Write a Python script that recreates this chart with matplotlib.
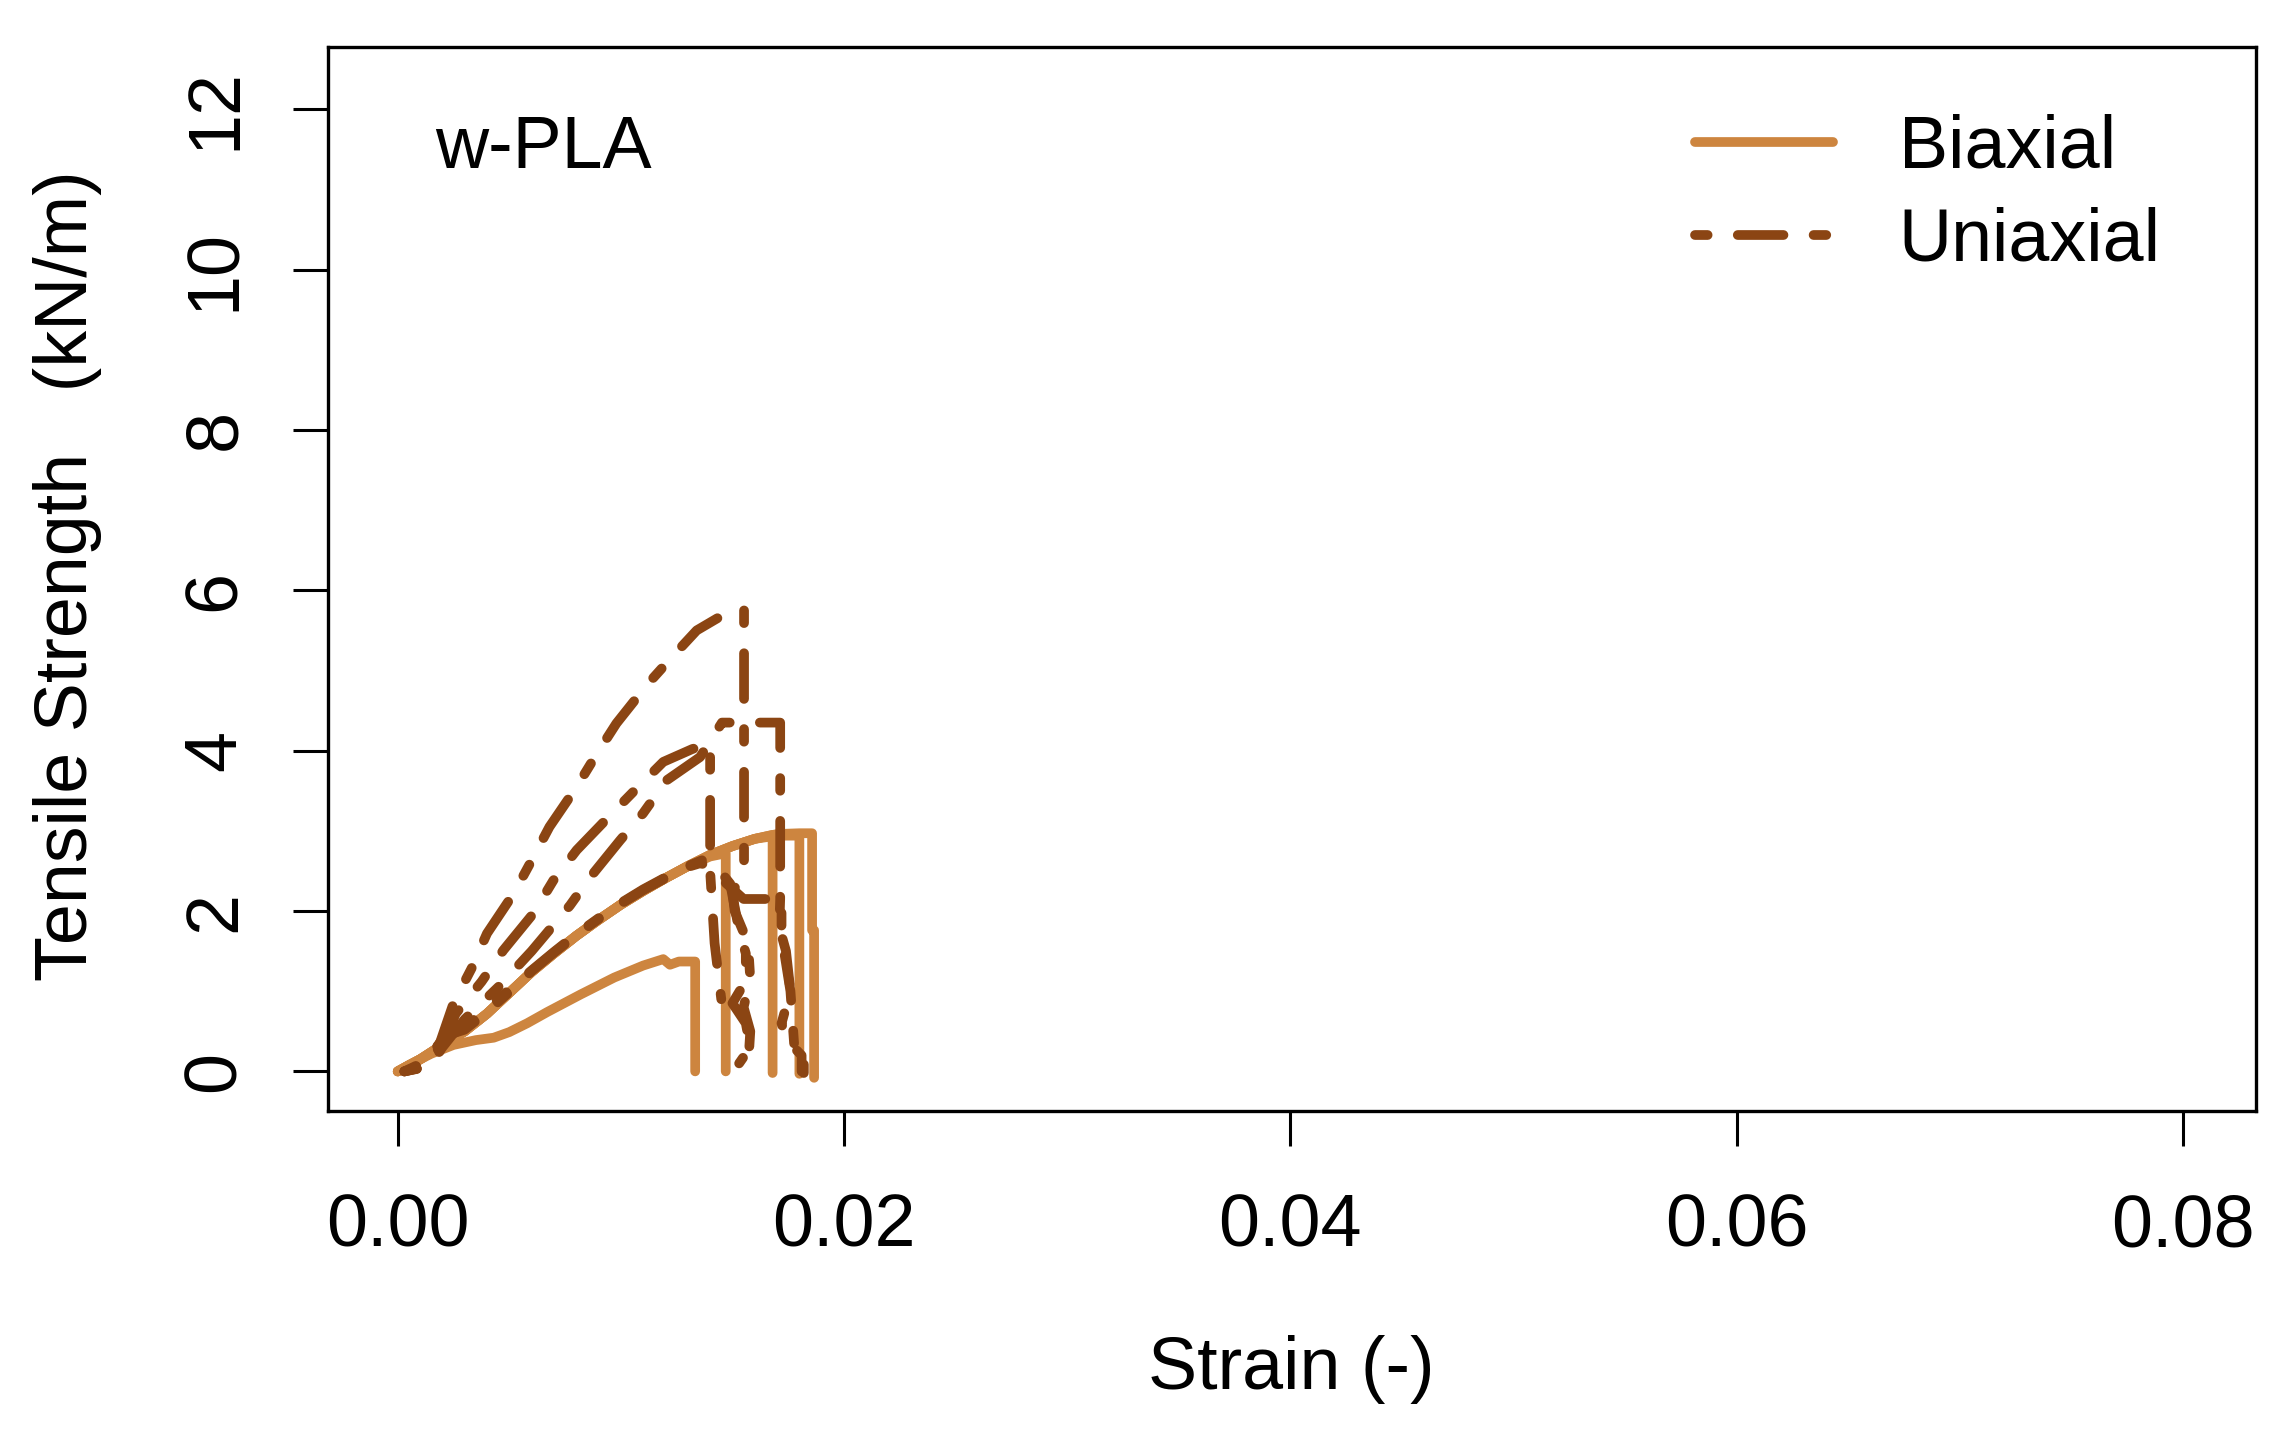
import matplotlib
matplotlib.use("Agg")
import matplotlib.pyplot as plt
from matplotlib.lines import Line2D

plt.rcParams['font.family'] = ['Liberation Sans', 'DejaVu Sans']

# ---------------- data ----------------
# Biaxial curves (strain, tensile strength kN/m)
b1_x = [0.0, 0.0005, 0.0015, 0.0025, 0.0035, 0.0043, 0.0050, 0.0058, 0.0067, 0.0082, 0.0097,
        0.0110, 0.0119, 0.0122, 0.0126, 0.01333, 0.01333]
b1_y = [0.0, 0.08, 0.22, 0.33, 0.39, 0.42, 0.49, 0.60, 0.74, 0.96, 1.17,
        1.32, 1.40, 1.33, 1.37, 1.37, 0.0]

b2_x = [0.0, 0.001, 0.002, 0.003, 0.004, 0.005, 0.006, 0.007, 0.008, 0.009, 0.010,
        0.011, 0.012, 0.013, 0.014, 0.0147, 0.0147]
b2_y = [0.0, 0.15, 0.33, 0.50, 0.72, 0.98, 1.24, 1.47, 1.69, 1.89, 2.08,
        2.25, 2.41, 2.56, 2.68, 2.72, 0.0]

b3_x = [0.0, 0.001, 0.002, 0.003, 0.004, 0.005, 0.006, 0.007, 0.008, 0.009, 0.010,
        0.011, 0.012, 0.013, 0.014, 0.015, 0.016, 0.0168, 0.0168]
b3_y = [0.0, 0.15, 0.33, 0.50, 0.72, 0.98, 1.24, 1.47, 1.69, 1.89, 2.08,
        2.25, 2.41, 2.56, 2.70, 2.81, 2.90, 2.95, -0.02]

b4_x = [0.0, 0.001, 0.002, 0.003, 0.004, 0.005, 0.006, 0.007, 0.008, 0.009, 0.010,
        0.011, 0.012, 0.013, 0.014, 0.015, 0.016, 0.017, 0.0180, 0.0180]
b4_y = [0.0, 0.15, 0.33, 0.50, 0.72, 0.98, 1.24, 1.47, 1.69, 1.89, 2.08,
        2.25, 2.41, 2.56, 2.70, 2.81, 2.90, 2.94, 2.94, -0.03]

b5_x = [0.0, 0.001, 0.002, 0.003, 0.004, 0.005, 0.006, 0.007, 0.008, 0.009, 0.010,
        0.011, 0.012, 0.013, 0.014, 0.015, 0.016, 0.017, 0.018, 0.01857, 0.01857,
        0.01866, 0.01866]
b5_y = [0.0, 0.15, 0.33, 0.50, 0.72, 0.98, 1.24, 1.47, 1.69, 1.89, 2.08,
        2.25, 2.41, 2.56, 2.70, 2.81, 2.90, 2.96, 2.97, 2.97, 1.76,
        1.76, -0.08]

# Uniaxial curves
u1_x = [0.0003, 0.0012, 0.0017, 0.0025, 0.0033, 0.0040, 0.0052, 0.0060, 0.0068, 0.0080,
        0.0089, 0.0098, 0.0112, 0.0123, 0.0134, 0.0145, 0.01545, 0.01552, 0.01552,
        0.0150, 0.0151, 0.0157, 0.0158, 0.0155, 0.0158, 0.0157]
u1_y = [0.0, 0.06, 0.20, 0.85, 1.28, 1.72, 2.22, 2.63, 3.05, 3.54,
        3.95, 4.34, 4.83, 5.17, 5.50, 5.68, 5.77, 5.77, 2.45,
        2.25, 2.00, 1.60, 1.15, 0.80, 0.50, 0.05]

u2_x = [0.0003, 0.0013, 0.0018, 0.0026, 0.00376, 0.00473, 0.00608, 0.00697, 0.00802,
        0.00951, 0.01071, 0.0119, 0.0132, 0.01392, 0.01400, 0.01400, 0.0142, 0.0145]
u2_y = [0.0, 0.06, 0.20, 0.72, 1.12, 1.51, 1.97, 2.38, 2.76,
        3.19, 3.53, 3.86, 4.02, 4.08, 4.08, 2.50, 1.60, 0.90]

u3_x = [0.0003, 0.0014, 0.0020, 0.0030, 0.0045, 0.0060, 0.00772, 0.00862, 0.00996,
        0.01100, 0.01205, 0.01355, 0.01453, 0.01714, 0.01714, 0.0171, 0.0174,
        0.0176, 0.0172, 0.0174, 0.0181, 0.0181]
u3_y = [0.0, 0.06, 0.30, 0.65, 1.05, 1.50, 2.07, 2.42, 2.88,
        3.22, 3.63, 3.92, 4.35, 4.35, 2.15, 1.80, 1.50,
        1.00, 0.60, 0.40, 0.20, 0.0]

u4_x = [0.0003, 0.0012, 0.0020, 0.0030, 0.0040, 0.0050, 0.0060, 0.0070, 0.0080, 0.0090,
        0.0100, 0.0110, 0.0120, 0.0130, 0.0137, 0.0143, 0.0149, 0.0153, 0.0156,
        0.0156, 0.0150, 0.0156, 0.0158, 0.0153]
u4_y = [0.0, 0.10, 0.40, 0.55, 0.78, 1.02, 1.26, 1.49, 1.71, 1.91,
        2.10, 2.27, 2.42, 2.56, 2.64, 2.55, 2.34, 1.76, 1.47,
        1.13, 0.85, 0.60, 0.30, 0.10]

u5_x = [0.0003, 0.0012, 0.0022, 0.0030, 0.0040, 0.0050, 0.0060, 0.0070, 0.0080, 0.0090,
        0.0100, 0.0110, 0.0120, 0.0130, 0.0136, 0.0145, 0.0155, 0.0172, 0.0172,
        0.0176, 0.0178, 0.0182, 0.0182]
u5_y = [0.0, 0.12, 0.45, 0.52, 0.74, 0.99, 1.25, 1.48, 1.70, 1.90,
        2.09, 2.26, 2.41, 2.55, 2.60, 2.40, 2.15, 2.15, 1.70,
        1.00, 0.20, 0.20, -0.02]

biaxial = [(b1_x, b1_y), (b2_x, b2_y), (b3_x, b3_y), (b4_x, b4_y), (b5_x, b5_y)]
uniaxial = [(u1_x, u1_y), (u2_x, u2_y), (u3_x, u3_y), (u4_x, u4_y), (u5_x, u5_y)]

x_ticks = [0.00, 0.02, 0.04, 0.06, 0.08]
x_tick_labels = ["0.00", "0.02", "0.04", "0.06", "0.08"]
y_ticks = [0, 2, 4, 6, 8, 10, 12]
y_tick_labels = ["0", "2", "4", "6", "8", "10", "12"]

# ---------------- style ----------------
C_BI = "#CD853F"
C_UNI = "#8B4513"
LW = 7.0
DASH = (1.3, 3.1, 4.7, 3.1)
FS = 53

fig = plt.figure(figsize=(22.85, 14.4), dpi=100)
fig.patch.set_facecolor("white")
ax = fig.add_axes([0.1435, 0.2287, 0.9872 - 0.1435, 0.9676 - 0.2287])

for xs, ys in biaxial:
    ax.plot(xs, ys, color=C_BI, lw=LW, solid_joinstyle='round', solid_capstyle='round')
for xs, ys in uniaxial:
    ax.plot(xs, ys, color=C_UNI, lw=LW, linestyle=(0, DASH),
            dash_capstyle='round', dash_joinstyle='round')

ax.set_xlim(-0.00313, 0.08327)
ax.set_ylim(-0.49, 12.78)

ax.set_xticks(x_ticks)
ax.set_xticklabels(x_tick_labels)
ax.set_yticks(y_ticks)
ax.set_yticklabels(y_tick_labels, rotation=90, va='center', ha='right')

for s in ax.spines.values():
    s.set_linewidth(2.4)
    s.set_color("black")

ax.tick_params(axis='both', length=25, width=2.2, color='black', labelsize=FS)
ax.tick_params(axis='x', pad=34)
ax.tick_params(axis='y', pad=31)

ax.text(0.0555, 0.8862, "w-PLA", transform=ax.transAxes, fontsize=FS,
        ha='left', va='baseline')

handles = [Line2D([], [], color=C_BI, lw=LW, solid_capstyle='round'),
           Line2D([], [], color=C_UNI, lw=LW, linestyle=(0, DASH), dash_capstyle='round')]
ax.legend(handles, ["Biaxial", "Uniaxial"], loc='upper left',
          bbox_to_anchor=(0.709, 0.937), frameon=False, fontsize=FS,
          handlelength=1.88, handletextpad=0.89, labelspacing=0.33,
          borderpad=0, borderaxespad=0)

fig.text(1291 / 2285, 1 - 1370 / 1440, "Strain (-)", fontsize=FS, ha='center', va='center')
fig.text(68 / 2285, 1 - 576 / 1440, "Tensile Strength   (kN/m)", fontsize=FS,
         ha='center', va='center', rotation=90)

fig.savefig("out.png", dpi=100, facecolor="white")
